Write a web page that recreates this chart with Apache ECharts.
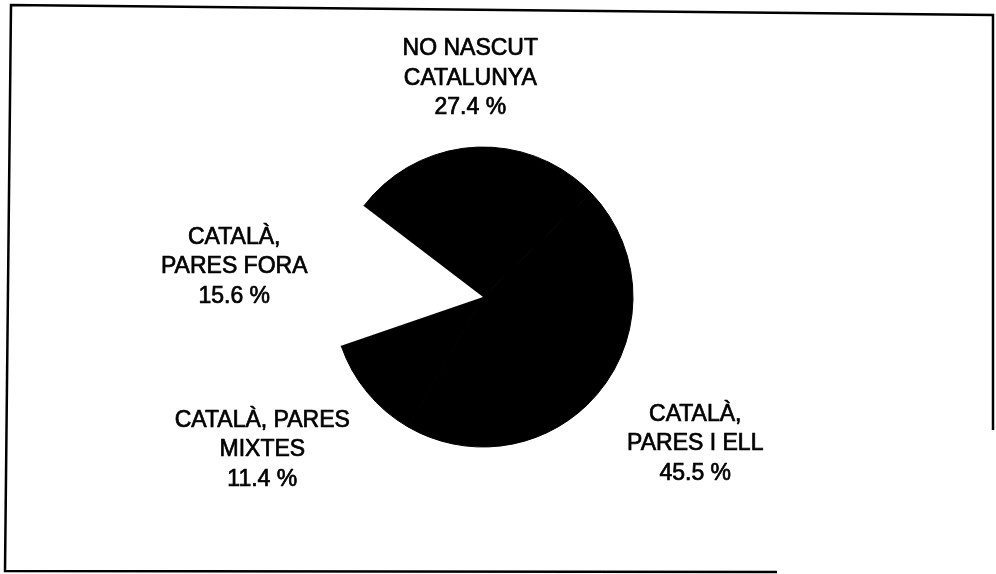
<!doctype html>
<html><head><meta charset="utf-8" />
<style>html,body,#app{margin:0;padding:0;width:996px;height:574px;background:#ffffff}</style>
</head><body><div id="app"></div>
<script src="https://cdn.jsdelivr.net/npm/echarts@6.0.0/dist/echarts.min.js"></script>
<script>
// origin of respondents, shares in percent
const groups = ['NO NASCUT\nCATALUNYA', 'CATALÀ,\nPARES I ELL', 'CATALÀ, PARES\nMIXTES', 'CATALÀ,\nPARES FORA'];
const shares = [27.4, 45.5, 11.4, 15.6];
const fills = ['#000000', '#000000', '#000000', '#ffffff'];

// label placement tweaks (distance past the rim, then nudge)
const labelGap = [69, 108, 119, 101];
const labelNudge = [[0, 0], [9, -12], [-13, -18], [-1, 10]];

const chart = echarts.init(document.getElementById('app'));
chart.setOption({
  animation: false,
  backgroundColor: '#ffffff',
  graphic: [{
    type: 'polyline',
    shape: { points: [[777, 572], [5, 571], [11, 5], [993, 15], [993, 430]] },
    style: { stroke: '#000', lineWidth: 2.5, fill: null }
  }],
  series: [{
    type: 'pie',
    center: [483, 297],
    radius: 150,
    startAngle: 142.7,
    clockwise: true,
    avoidLabelOverlap: false,
    emphasis: { disabled: true },
    label: {
      position: 'outside',
      alignTo: 'none',
      distanceToLabelLine: 0,
      formatter: p => p.name + '\n' + p.value.toFixed(1) + ' %',
      color: '#000',
      fontFamily: 'Liberation Sans, Arial, sans-serif',
      fontSize: 23,
      lineHeight: 29.5,
      align: 'center',
      textBorderColor: '#000',
      textBorderWidth: 0.7
    },
    labelLayout: p => ({
      align: 'center',
      verticalAlign: 'middle',
      dx: labelNudge[p.dataIndex][0],
      dy: labelNudge[p.dataIndex][1]
    }),
    data: groups.map((g, i) => ({
      name: g,
      value: shares[i],
      itemStyle: {
        color: fills[i],
        borderColor: fills[i],
        borderWidth: fills[i] === '#ffffff' ? 0 : 1
      },
      labelLine: { show: false, length: labelGap[i], length2: 0 }
    }))
  }]
});
</script></body></html>
